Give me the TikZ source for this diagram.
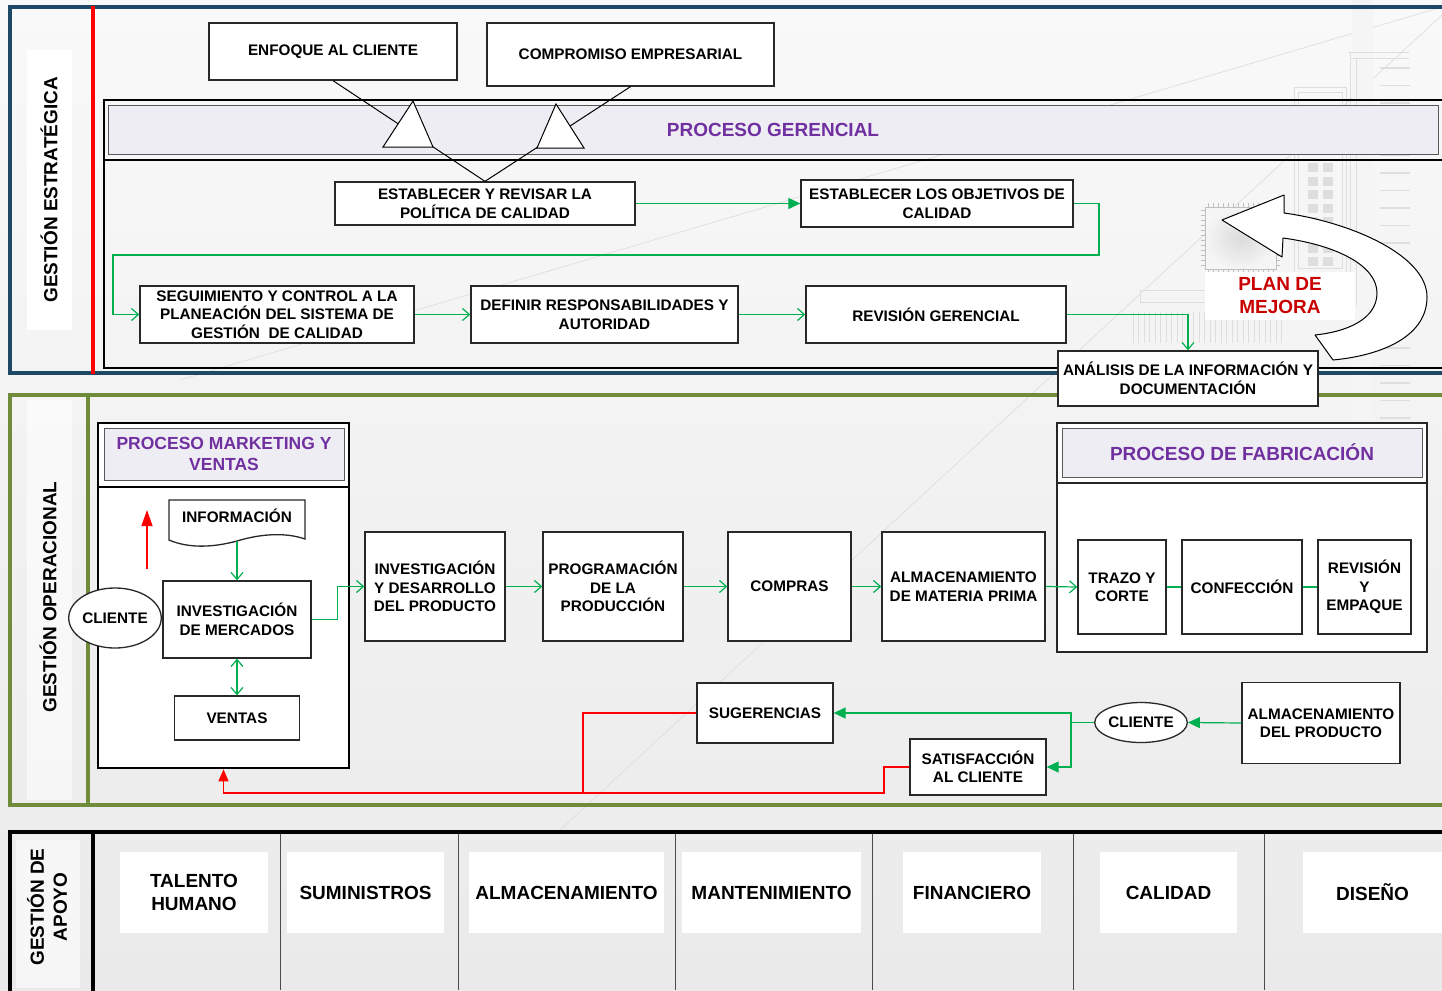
\documentclass[tikz,border=0pt]{standalone}
\usepackage{fontspec}
\setmainfont{Liberation Sans}
\usetikzlibrary{arrows.meta,shapes.geometric}

\definecolor{stratblue}{RGB}{30,72,102}
\definecolor{opgreen}{RGB}{112,140,58}
\definecolor{flowgreen}{RGB}{0,176,80}
\definecolor{bandfill}{RGB}{239,237,244}
\definecolor{titlepurple}{RGB}{112,48,160}
\definecolor{planred}{RGB}{200,0,0}
\definecolor{edgegray}{RGB}{40,40,40}
\definecolor{bgtop}{RGB}{249,249,249}
\definecolor{bgbottom}{RGB}{234,234,234}
\definecolor{decor}{RGB}{222,222,222}

\newcommand\boxfont{\fontsize{15.3}{18.5}\selectfont\bfseries}
\newcommand\mkfont{\fontsize{17.5}{21}\selectfont\bfseries}
\newcommand\bigfont{\fontsize{19}{23}\selectfont\bfseries}

\tikzset{
  stepbox/.style={draw=edgegray, line width=1.3pt, fill=white, align=center, font=\boxfont, inner sep=0pt},
  oval/.style={ellipse, draw=edgegray, line width=1.3pt, fill=white, font=\boxfont, inner sep=0pt},
  groupframe/.style={draw=black, line width=2.5pt, inner sep=0pt},
  headband/.style={draw=black!65, line width=1pt, fill=bandfill, text=titlepurple, align=center, inner sep=0pt},
  flowline/.style={draw=flowgreen, line width=1.2pt},
  openarr/.style={flowline, -{Straight Barb[length=7pt,width=12pt]}},
  fillarr/.style={flowline, -{Triangle[length=12pt,width=11pt]}},
  backline/.style={draw=red, line width=1.2pt},
  merge/.style={draw=black, line width=1pt, fill=white, line join=miter},
  sidelabel/.style={rotate=90, font=\bigfont, align=center},
  supportcell/.style={fill=white, font=\bigfont, align=center, inner sep=0pt},
  decoline/.style={draw=decor, line width=0.7pt},
}

\begin{document}
\begin{tikzpicture}[x=1pt,y=-1pt]
\useasboundingbox (0,0) rectangle (1442,990);
\clip (0,0) rectangle (1442,990);

% ---------- background ----------
\shade[top color=bgtop, bottom color=bgbottom] (0,0) rectangle (1442,990);
\draw[decoline] (180,380) -- (1442,7);
\draw[decoline] (1442,15) -- (560,830);
\fill[black!4] (1352,0) rectangle (1373,420);
\foreach \yy in {68,85.5,...,460} \draw[decor, line width=1.6pt] (1380,\yy) -- (1410,\yy);
% building outline and windows
\draw[decoline] (1294,87) rectangle (1346,272);
\draw[decoline] (1298,92) rectangle (1342,268);
\draw[decoline] (1348,52) -- (1409,52) (1350,58) -- (1409,58) (1350,52) -- (1350,305) (1356,58) -- (1356,305);
\foreach \yy in {163,177,190,204,217,230,244,257} {
  \fill[decor] (1308,\yy) rectangle (1318,\yy+9);
  \fill[decor] (1323,\yy) rectangle (1333,\yy+9);
}
% chip and pins
\foreach \xx in {1208,1213,...,1274} \draw[black!25, line width=0.6pt] (\xx,203) -- (\xx,207) (\xx,269) -- (\xx,273);
\foreach \yy in {210,215,...,267} \draw[black!25, line width=0.6pt] (1201,\yy) -- (1205,\yy) (1276,\yy) -- (1280,\yy);
\shade[inner color=black!14, outer color=black!4, draw=black!25] (1205,207) rectangle (1276,269);
\draw[decoline] (1140,290) rectangle (1205,302);
\foreach \xx in {1133,1138.5,...,1285} \draw[decor, line width=0.8pt] (\xx,312) -- (\xx,343);

% ---------- section frames ----------
\draw[stratblue, line width=3.5pt] (10,7) rectangle (1470,373);
\draw[opgreen, line width=3.5pt] (10,395) rectangle (1470,805);
\draw[opgreen, line width=3.5pt] (88,395) -- (88,805);
\draw[black, line width=3.5pt] (10,1000) -- (10,832) -- (1470,832);
\draw[black, line width=3.5pt] (93,832) -- (93,1000);

% side labels
\fill[white] (27,50) rectangle (72,330);
\fill[white, opacity=0.6] (27,400) rectangle (72,800);
\fill[white, opacity=0.6] (16,840) rectangle (80,988);
\node[sidelabel] (lblEst) at (49,190) {GESTIÓN ESTRATÉGICA};
\node[sidelabel] (lblOp) at (48,597) {GESTIÓN OPERACIONAL};
\node[sidelabel] (lblAp) at (47,907) {GESTIÓN DE\\APOYO};
\draw[red, line width=3.5pt] (93,6) -- (93,374);

% ---------- strategic management ----------
\node[groupframe, minimum width=1356pt, minimum height=268pt] (ger) at (782,234) {};
\draw[black, line width=2.5pt] (104,160) -- (1470,160);
\node[headband, font=\bigfont, minimum width=1330pt, minimum height=49pt] (hGer) at (773,129.5) {PROCESO GERENCIAL};

\node[stepbox, minimum width=248pt, minimum height=57pt] (enfoque) at (333,51.5) {ENFOQUE AL CLIENTE};
\node[stepbox, minimum width=287pt, minimum height=63pt] (compromiso) at (630.5,54.5) {COMPROMISO EMPRESARIAL};
\node[stepbox, minimum width=300pt, minimum height=43pt] (politica) at (485,203.5) {ESTABLECER Y REVISAR LA\\POLÍTICA DE CALIDAD};
\node[stepbox, minimum width=272pt, minimum height=47pt] (objetivos) at (937,203.5) {ESTABLECER LOS OBJETIVOS DE\\CALIDAD};
\node[stepbox, minimum width=274pt, minimum height=57pt] (seguimiento) at (277,314.5) {SEGUIMIENTO Y CONTROL A LA\\PLANEACIÓN DEL SISTEMA DE\\GESTIÓN \ DE CALIDAD};
\node[stepbox, minimum width=267pt, minimum height=57pt] (definir) at (604.5,314.5) {DEFINIR RESPONSABILIDADES Y\\AUTORIDAD};
\node[stepbox, minimum width=260pt, minimum height=57pt] (revision) at (936,314.5) {REVISIÓN GERENCIAL};

% inputs merging into the quality policy
\draw[black, line width=1pt] (enfoque.south) -- (politica.north);
\draw[black, line width=1pt] (compromiso.south) -- (politica.north);
\draw[merge] (413,101) -- (383,147) -- (433,147) -- cycle;
\draw[merge] (556,104) -- (537,148) -- (584,148) -- cycle;

\draw[fillarr] (politica.east) -- (objetivos.east -| objetivos.west);
\coordinate (loopR) at (1099,255);
\coordinate (loopL) at (113,255);
\draw[openarr] (objetivos.east) -| (loopR) -- (loopL) |- (seguimiento.west);
\draw[openarr] (seguimiento.east) -- (definir.west);
\draw[openarr] (definir.east) -- (revision.west);

\node[stepbox, minimum width=260pt, minimum height=55pt] (analisis) at (1188,378.5) {ANÁLISIS DE LA INFORMACIÓN Y\\DOCUMENTACIÓN};
\draw[openarr] (revision.east) -| (analisis.north);

% improvement loop arrow
\draw[draw=black, line width=1pt, fill=white, line join=round]
  (1222,220) -- (1284,195) -- (1284,213)
  .. controls (1350,222) and (1427,255) .. (1427,297)
  .. controls (1427,335) and (1385,355) .. (1333,360)
  -- (1315,335)
  .. controls (1345,332) and (1377,320) .. (1377,293)
  .. controls (1377,265) and (1335,245) .. (1283,238)
  -- (1282,257) -- cycle;
\node[fill=white, text=planred, font=\bigfont, align=center, minimum width=150pt, minimum height=48pt, inner sep=0pt] (plan) at (1280,296) {PLAN DE\\MEJORA};

% ---------- operational management ----------
\node[groupframe, fill=white, minimum width=251pt, minimum height=345pt] (mk) at (223.5,595.5) {};
\draw[black, line width=2.5pt] (98,487) -- (349,487);
\node[headband, font=\mkfont, minimum width=240pt, minimum height=52pt] (hMk) at (224,454) {PROCESO MARKETING Y\\VENTAS};

% document shape for the information input
\draw[draw=edgegray, line width=1.3pt, fill=white]
  (169,500) -- (305,500) -- (305,539)
  .. controls (285,532) and (260,534) .. (237,541)
  .. controls (215,547) and (190,549) .. (169,540) -- cycle;
\node[font=\boxfont] (info) at (237,516) {INFORMACIÓN};
\coordinate (infob) at (237,541);

\node[stepbox, minimum width=148pt, minimum height=77pt] (invmerc) at (237,619.5) {INVESTIGACIÓN\\DE MERCADOS};
\node[stepbox, minimum width=125pt, minimum height=44pt] (ventas) at (237,718) {VENTAS};
\node[oval, minimum width=90pt, minimum height=60pt] (cliente1) at (115,618) {CLIENTE};

\coordinate (upA) at (147,569);
\coordinate (upB) at (147,510);
\draw[red, line width=1.3pt, -{Triangle[length=16pt,width=11pt]}] (upA) -- (upB);

\draw[openarr] (infob) -- (invmerc.north);
\draw[flowline, {Straight Barb[length=7pt,width=12pt]}-{Straight Barb[length=7pt,width=12pt]}] (invmerc.south) -- (ventas.north);

% production chain
\node[stepbox, minimum width=140pt, minimum height=109pt] (invdes) at (435,586.5) {INVESTIGACIÓN\\Y DESARROLLO\\DEL PRODUCTO};
\node[stepbox, minimum width=140pt, minimum height=109pt] (prog) at (613,586.5) {PROGRAMACIÓN\\DE LA\\PRODUCCIÓN};
\node[stepbox, minimum width=123pt, minimum height=109pt] (compras) at (789.5,586.5) {COMPRAS};
\node[stepbox, minimum width=163pt, minimum height=109pt] (almmp) at (963.5,586.5) {ALMACENAMIENTO\\DE MATERIA PRIMA};

\draw[openarr] (invmerc.east) -- ++(26,0) |- (invdes.west);
\draw[openarr] (invdes.east) -- (prog.west);
\draw[openarr] (prog.east) -- (compras.west);
\draw[openarr] (compras.east) -- (almmp.west);

% manufacturing process
\node[groupframe, line width=2pt, draw=black!85, fill=white, minimum width=370pt, minimum height=229pt] (fab) at (1242,537.5) {};
\draw[black!85, line width=2pt] (1057,483) -- (1427,483);
\node[headband, font=\bigfont, minimum width=360pt, minimum height=49pt] (hFab) at (1242,452.5) {PROCESO DE FABRICACIÓN};

\node[stepbox, minimum width=88pt, minimum height=94pt] (trazo) at (1122,587) {TRAZO Y\\CORTE};
\node[stepbox, minimum width=120pt, minimum height=94pt] (confeccion) at (1242,587) {CONFECCIÓN};
\node[stepbox, minimum width=93pt, minimum height=94pt] (revemp) at (1364.5,587) {REVISIÓN\\Y\\EMPAQUE};

\draw[openarr] (almmp.east) -- (trazo.west);
\draw[flowline] (trazo.east) -- (confeccion.west);
\draw[flowline] (confeccion.east) -- (revemp.west);

% delivery and feedback
\node[stepbox, minimum width=158pt, minimum height=81pt] (almprod) at (1321,723) {ALMACENAMIENTO\\DEL PRODUCTO};
\node[oval, minimum width=90pt, minimum height=40pt] (cliente2) at (1141,722.5) {CLIENTE};
\node[stepbox, minimum width=136pt, minimum height=60pt] (sugerencias) at (765,713) {SUGERENCIAS};
\node[stepbox, minimum width=136pt, minimum height=56pt] (satisf) at (978,767) {SATISFACCIÓN\\AL CLIENTE};

\draw[fillarr] (almprod.west) -- (cliente2.east);
\coordinate (split) at (1071,722.5);
\draw[flowline] (cliente2.west) -- (split);
\draw[fillarr] (split) |- (sugerencias.east);
\draw[fillarr] (split) |- (satisf.east);

\coordinate (fbA) at (884,793);
\coordinate (fbB) at (583,793);
\draw[backline, -{Triangle[length=12pt,width=10pt]}] (satisf.west) -| (fbA) -| (mk.south);
\draw[backline] (sugerencias.west) -| (fbB);

% ---------- support management ----------
\foreach \xx in {280,458,675,872,1073,1264}
  \draw[black!70, line width=1pt] (\xx,834) -- (\xx,990);
\node[supportcell, minimum width=148pt, minimum height=81pt] (talento) at (194,892.5) {TALENTO\\HUMANO};
\node[supportcell, minimum width=157pt, minimum height=81pt] (suministros) at (365.5,892.5) {SUMINISTROS};
\node[supportcell, minimum width=195pt, minimum height=81pt] (almacen) at (566.5,892.5) {ALMACENAMIENTO};
\node[supportcell, minimum width=179pt, minimum height=81pt] (manten) at (771.5,892.5) {MANTENIMIENTO};
\node[supportcell, minimum width=138pt, minimum height=81pt] (financ) at (972,892.5) {FINANCIERO};
\node[supportcell, minimum width=137pt, minimum height=81pt] (calidad) at (1168.5,892.5) {CALIDAD};
\node[supportcell, minimum width=139pt, minimum height=81pt] (diseno) at (1372.5,892.5) {DISEÑO};

\end{tikzpicture}
\end{document}
